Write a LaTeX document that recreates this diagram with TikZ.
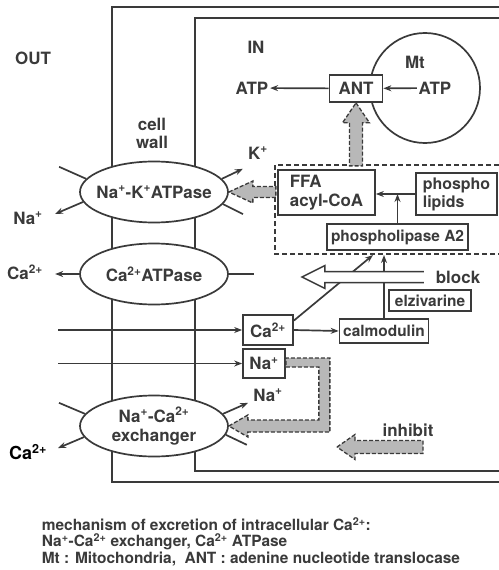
\documentclass[tikz,border=0pt]{standalone}
\usepackage{fontspec}
\setmainfont{TeX Gyre Heros}
\usetikzlibrary{shapes.geometric,arrows.meta}
\definecolor{ink}{HTML}{3A3A3A}
\definecolor{shade}{HTML}{B8B8B8}
\begin{document}
\begin{tikzpicture}[
    x=1bp,
    y=-1bp,
    >={Stealth[length=8bp,width=6bp]},
    color=ink,
    line width=1.7bp,
    wall/.style={
        line width=1.9bp
    },
    tag/.style={
        inner sep=1bp,
        font=\fontsize{17}{18}\selectfont\bfseries
    },
    pump/.style={
        ellipse,
        draw,
        fill=white,
        minimum width=148bp,
        minimum height=61bp,
        inner xsep=-12bp,
        inner ysep=0pt,
        align=center,
        font=\fontsize{17}{19}\selectfont\bfseries
    },
    box/.style={
        draw,
        fill=white,
        inner sep=0pt,
        font=\fontsize{15.5}{17}\selectfont\bfseries
    },
    fat/.style={
        fill=shade,
        draw=ink,
        line width=1.3bp,
        dash pattern=on 4bp off 2bp
    },
    hollow/.style={
        fill=white,
        draw=ink,
        line width=1.5bp
    }
]
    \useasboundingbox (0,0) rectangle (499,570);

    \draw[wall] (499,7) -- (112,7) -- (112,482) -- (499,482);
    \draw[wall] (499,18) -- (195,18) -- (195,471) -- (499,471);

    \node[tag] (out) at (33,58) {OUT};
    \node[tag] (in) at (256,47) {IN};
    \node[tag, align=center] (cellwall) at (152,133) {cell\\wall};

    \node[pump] (nak) at (154,192) {Na\textsuperscript{+}-K\textsuperscript{+}ATPase};
    \node[pump] (caatp) at (154,274) {Ca\textsuperscript{2+}ATPase};
    \node[pump] (exch) at (154,426) {Na\textsuperscript{+}-Ca\textsuperscript{2+}\\exchanger};

    \node[tag] (naout) at (28,218) {Na\textsuperscript{+}};
    \node[tag] (kin) at (258,153) {K\textsuperscript{+}};
    \node[tag] (caout) at (25,272) {Ca\textsuperscript{2+}};
    \node[tag, text=black, font=\fontsize{18}{19}\selectfont\bfseries] (caex) at (28,452) {Ca\textsuperscript{2+}};
    \node[tag] (nain) at (268,395) {Na\textsuperscript{+}};

    \draw (nak.169) -- ++(-27,-12);
    \draw[->] (nak.188) -- ++(-28,12);
    \draw[->] (nak.11) -- ++(21,-10);
    \draw (nak.350) -- ++(20,10);

    \draw[->] (caatp.west) -- ++(-24,0);
    \draw (caatp.east) -- ++(25,0);

    \draw (exch.170) -- ++(-26,-11);
    \draw[->] (exch.189) -- ++(-26,11);
    \draw[->] (exch.10) -- ++(25,-11);
    \draw (exch.353) -- ++(21,10);

    % mitochondria
    \node[circle, draw, minimum size=110bp] (mt) at (425,88) {};
    \node[tag] (mtname) at (415,62) {Mt};
    \node[tag] (atpmt) at (435,88) {ATP};
    \node[box, minimum width=53bp, minimum height=27bp,
        font=\fontsize{17}{18}\selectfont\bfseries] (ant) at (356,88.5) {ANT};
    \node[tag] (atpcyt) at (252,88) {ATP};
    \draw[->] (atpmt) -- (ant);
    \draw[->] (ant) -- (atpcyt);

    % lipid area
    \draw[dash pattern=on 5bp off 3bp, line width=1.3bp]
        (499,165) -- (275,165) -- (275,254) -- (499,254);
    \coordinate (act) at (373,255);

    \node[box, minimum width=97bp, minimum height=45bp, align=left,
        font=\fontsize{17}{19}\selectfont\bfseries] (ffa) at (326.5,192.5) {FFA\\acyl-CoA};
    \node[box, minimum width=81bp, minimum height=42bp, align=left,
        font=\fontsize{16}{18}\selectfont\bfseries] (lipid) at (456.5,194) {phospho\\lipids};
    \node[box, minimum width=141bp, minimum height=26bp] (pla) at (397.5,237) {phospholipase A2};

    \draw[->] (lipid.west) -- (lipid.west -| ffa.east);
    \draw[->] (pla.north) -- (pla.north |- lipid.west);

    \node[box, minimum width=82bp, minimum height=21bp] (elz) at (430,300.5) {elzivarine};
    \node[box, minimum width=89bp, minimum height=24bp] (calm) at (384,331) {calmodulin};
    \node[box, minimum width=50bp, minimum height=30bp,
        font=\fontsize{17}{18}\selectfont\bfseries] (ca2) at (268,330) {Ca\textsuperscript{2+}};
    \node[box, minimum width=42bp, minimum height=29bp,
        font=\fontsize{17}{18}\selectfont\bfseries] (na) at (264,363.5) {Na\textsuperscript{+}};

    \coordinate (cafrom) at (58,330);
    \coordinate (nafrom) at (58,363.5);
    \draw[->] (cafrom) -- (ca2.west);
    \draw[->] (nafrom) -- (na.west);
    \draw[->] (ca2.east) -- (calm.west);
    \draw[->] (ca2.20) -- (act);
    \draw[->] (calm.north) -- (calm.north |- act);

    \node[tag] (block) at (458,277) {block};
    \draw[hollow] (block.west) ++(-10,-5.5) -- ++(-99,0) -- ++(0,-6)
        -- ++(-23,11.5) -- ++(23,11.5) -- ++(0,-6) -- ++(99,0);

    \node[tag] (inhibit) at (408,430) {inhibit};
    \coordinate (inhtip) at (337,447);

    % broad arrows
    \draw[fat] (ant.south) -- ++(13.5,20) -- ++(-7,0) -- ++(0,43)
        -- ++(-13,0) -- ++(0,-43) -- ++(-7,0) -- cycle;
    \draw[fat] (nak.east) -- ++(24,-11) -- ++(0,5.5) -- ++(23,0)
        -- ++(0,11) -- ++(-23,0) -- ++(0,5.5) -- cycle;
    \draw[fat] (exch.east) -- ++(19,-11) -- ++(0,5) -- ++(71,0)
        -- ++(0,-53) -- ++(-33,0) -- ++(0,-9) -- ++(44,0)
        -- ++(0,74) -- ++(-82,0) -- ++(0,5) -- cycle;
    \draw[fat] (inhtip) -- ++(18,-12.5) -- ++(0,6) -- ++(68,0)
        -- ++(0,13) -- ++(-68,0) -- ++(0,6) -- cycle;

    \node[anchor=west, align=left, inner sep=0pt,
        font=\fontsize{15.5}{16.5}\selectfont\bfseries] (caption) at (41,541.5)
        {mechanism of excretion of intracellular Ca\textsuperscript{2+}:\\
         Na\textsuperscript{+}-Ca\textsuperscript{2+} exchanger, Ca\textsuperscript{2+} ATPase\\
         Mt : Mitochondria,~ ANT : adenine nucleotide translocase};
\end{tikzpicture}
\end{document}
